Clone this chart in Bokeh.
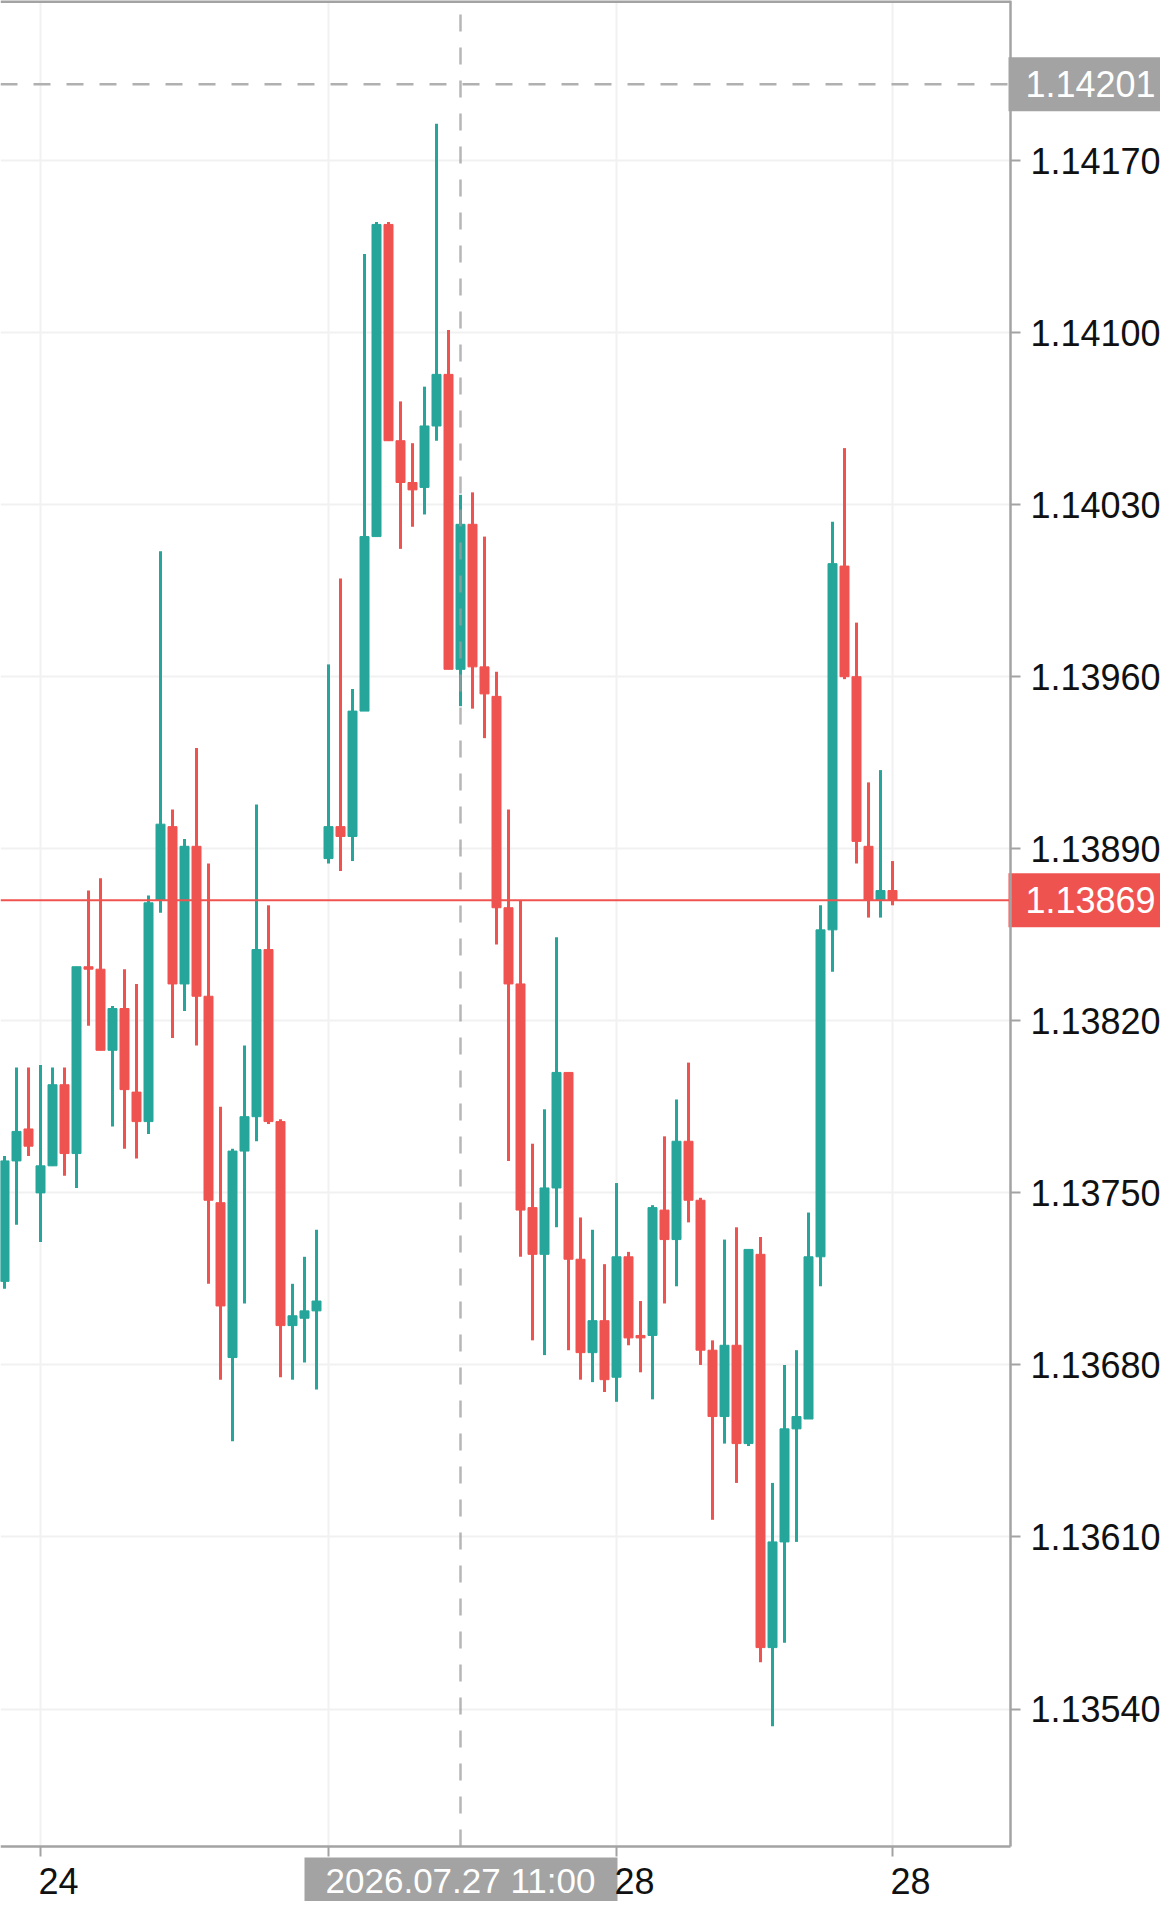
from bokeh.plotting import figure
from bokeh.models import (Range1d, FixedTicker, PrintfTickFormatter, LinearAxis, Grid,
                          ColumnDataSource)
from bokeh.core.properties import value
from bokeh.embed import file_html
from bokeh.resources import INLINE

# ---- data (candle index, OHLC) ----
opens = [1.13714, 1.13763, 1.13776, 1.13750, 1.13761, 1.13794, 1.13766, 1.13842, 1.13841, 1.13808,
         1.13825, 1.13791, 1.13779, 1.13869, 1.13899, 1.13835, 1.13891, 1.13830, 1.13746, 1.13683,
         1.13767, 1.13781, 1.13849, 1.13779, 1.13696, 1.13699, 1.13702, 1.13886, 1.13899, 1.13895,
         1.13946, 1.14017, 1.14144, 1.14056, 1.14039, 1.14037, 1.14062, 1.14083, 1.13963, 1.14022,
         1.13964, 1.13952, 1.13866, 1.13835, 1.13744, 1.13725, 1.13752, 1.13799, 1.13723, 1.13685,
         1.13698, 1.13675, 1.13724, 1.13692, 1.13692, 1.13743, 1.13731, 1.13771, 1.13747, 1.13686,
         1.13659, 1.13688, 1.13648, 1.13725, 1.13565, 1.13608, 1.13654, 1.13658, 1.13724, 1.13857,
         1.14005, 1.13960, 1.13891, 1.13869, 1.13873]
highs = [1.13765, 1.13801, 1.13801, 1.13802, 1.13801, 1.13801, 1.13842, 1.13873, 1.13878, 1.13826,
         1.13841, 1.13835, 1.13871, 1.14011, 1.13906, 1.13894, 1.13931, 1.13884, 1.13785, 1.13768,
         1.13810, 1.13908, 1.13867, 1.13780, 1.13713, 1.13724, 1.13735, 1.13965, 1.14000, 1.13955,
         1.14132, 1.14145, 1.14145, 1.14072, 1.14055, 1.14078, 1.14185, 1.14101, 1.14034, 1.14035,
         1.14017, 1.13962, 1.13906, 1.13869, 1.13770, 1.13784, 1.13854, 1.13799, 1.13740, 1.13735,
         1.13721, 1.13754, 1.13726, 1.13706, 1.13745, 1.13773, 1.13788, 1.13803, 1.13748, 1.13690,
         1.13731, 1.13736, 1.13727, 1.13732, 1.13632, 1.13680, 1.13686, 1.13742, 1.13867, 1.14023,
         1.14053, 1.13982, 1.13917, 1.13922, 1.13885]
lows = [1.13711, 1.13737, 1.13765, 1.13730, 1.13761, 1.13757, 1.13752, 1.13818, 1.13808, 1.13777,
        1.13768, 1.13764, 1.13774, 1.13864, 1.13813, 1.13824, 1.13810, 1.13713, 1.13674, 1.13649,
        1.13705, 1.13771, 1.13778, 1.13675, 1.13674, 1.13681, 1.13670, 1.13884, 1.13881, 1.13885,
        1.13946, 1.14017, 1.14056, 1.14012, 1.14021, 1.14026, 1.14056, 1.13963, 1.13948, 1.13947,
        1.13935, 1.13851, 1.13763, 1.13724, 1.13690, 1.13684, 1.13736, 1.13686, 1.13674, 1.13673,
        1.13669, 1.13665, 1.13688, 1.13677, 1.13666, 1.13705, 1.13712, 1.13738, 1.13680, 1.13617,
        1.13648, 1.13632, 1.13647, 1.13559, 1.13533, 1.13567, 1.13608, 1.13658, 1.13712, 1.13840,
        1.13959, 1.13884, 1.13862, 1.13862, 1.13867]
closes = [1.13763, 1.13775, 1.13769, 1.13761, 1.13794, 1.13766, 1.13842, 1.13841, 1.13808, 1.13825,
          1.13792, 1.13779, 1.13868, 1.13900, 1.13835, 1.13891, 1.13830, 1.13747, 1.13704, 1.13767,
          1.13781, 1.13849, 1.13779, 1.13696, 1.13700, 1.13702, 1.13706, 1.13899, 1.13895, 1.13946,
          1.14017, 1.14144, 1.14056, 1.14039, 1.14036, 1.14062, 1.14083, 1.13963, 1.14022, 1.13964,
          1.13953, 1.13866, 1.13835, 1.13743, 1.13725, 1.13752, 1.13799, 1.13723, 1.13685, 1.13698,
          1.13674, 1.13724, 1.13691, 1.13691, 1.13744, 1.13731, 1.13771, 1.13747, 1.13686, 1.13659,
          1.13688, 1.13648, 1.13727, 1.13565, 1.13608, 1.13654, 1.13659, 1.13724, 1.13857, 1.14006,
          1.13960, 1.13893, 1.13869, 1.13873, 1.13869]
index = list(range(len(opens)))

y_ticks = [1.13540, 1.13610, 1.13680, 1.13750, 1.13820, 1.13890, 1.13960, 1.14030, 1.14100, 1.14170]
x_ticks = [3, 27, 51, 74]
x_label_ticks = [3, 51, 74]          # the label at 27 is hidden behind the crosshair tag
x_label_texts = ["24", "28", "28"]
crosshair_index = 38
crosshair_price = 1.14201
crosshair_time = "2026.07.27 11:00"
current_price = closes[-1]

UP = "#26a69a"
DOWN = "#ef5350"
AXIS = "#a3a3a3"
GRID = "#f1f1f1"
TAG_GRAY = "#a3a3a3"
FONT = "Liberation Sans"
FS = "36px"

# ---- geometry (pixels) ----
W, H = 1160, 1901            # whole canvas = frame
PLOT_W, PLOT_H = 1010, 1846  # candle area; the axes are fixed inside the frame
px_x = 12.0                  # pixels per candle
px_y = 245800.0              # pixels per price unit
x_lo = -4 / px_x
x_axis = x_lo + PLOT_W / px_x
x_hi = x_lo + W / px_x
y_hi = 1.142351
y_axis = y_hi - PLOT_H / px_y
y_lo = y_hi - H / px_y
dx = lambda px: px / px_x
dy = lambda px: px / px_y

p = figure(width=W, height=H, x_range=Range1d(x_lo, x_hi), y_range=Range1d(y_lo, y_hi),
           output_backend="svg", toolbar_location=None,
           x_axis_location=None, y_axis_location=None,
           min_border=0, min_border_left=0, min_border_right=0,
           min_border_top=0, min_border_bottom=0)
p.outline_line_color = None
p.background_fill_color = "white"
p.border_fill_color = "white"
p.center = [r for r in p.center if not isinstance(r, Grid)]

# grid, bounded to the candle area
p.add_layout(Grid(dimension=0, ticker=FixedTicker(ticks=x_ticks), cross_bounds=(y_axis, y_hi),
                  grid_line_color=GRID, grid_line_width=2))
p.add_layout(Grid(dimension=1, ticker=FixedTicker(ticks=y_ticks), cross_bounds=(x_lo, x_axis),
                  grid_line_color=GRID, grid_line_width=2))

colors = [UP if c >= o else DOWN for o, c in zip(opens, closes)]
src = ColumnDataSource(dict(x=index, o=opens, h=highs, l=lows, c=closes,
                            top=[max(o, c) for o, c in zip(opens, closes)],
                            bot=[min(o, c) for o, c in zip(opens, closes)],
                            color=colors))
p.segment(x0="x", y0="l", x1="x", y1="h", source=src, line_color="color", line_width=3)
p.vbar(x="x", width=0.75, top="top", bottom="bot", source=src,
       fill_color="color", line_color="color", line_width=1)

# top border of the chart area
p.segment(x0=[x_lo], y0=[y_hi], x1=[x_axis], y1=[y_hi], line_color=AXIS, line_width=5)

# crosshair and current price line
p.segment(x0=[x_lo], y0=[crosshair_price], x1=[x_axis], y1=[crosshair_price],
          line_color="#b0b0b0", line_width=2.5, line_dash="17 16")
p.segment(x0=[crosshair_index], y0=[y_axis], x1=[crosshair_index], y1=[y_hi],
          line_color="#9e9e9e", line_alpha=0.75, line_width=2.5, line_dash="17 16")
p.segment(x0=[x_lo], y0=[current_price], x1=[x_axis], y1=[current_price],
          line_color=DOWN, line_width=2)

# price axis (right side of the candle area)
ya = LinearAxis(fixed_location=x_axis, bounds=(y_axis, y_hi),
                ticker=FixedTicker(ticks=y_ticks), formatter=PrintfTickFormatter(format="%.5f"))
# time axis (ticks), and its labels, which sit left-aligned at their tick
xa = LinearAxis(fixed_location=y_axis, bounds=(x_lo, x_axis), ticker=FixedTicker(ticks=x_ticks),
                major_label_overrides={t: "" for t in x_ticks})
shift = 1.5  # label centre lies half a label width right of its tick
xl = LinearAxis(fixed_location=y_axis, bounds=(x_lo, x_axis),
                ticker=FixedTicker(ticks=[t + shift for t in x_label_ticks]),
                major_label_overrides={t + shift: s for t, s in zip(x_label_ticks, x_label_texts)},
                axis_line_color=None, major_tick_line_color=None, major_tick_out=0,
                major_tick_in=0, major_label_standoff=21)
for ax in (ya, xa, xl):
    ax.major_label_text_font = FONT
    ax.major_label_text_font_size = FS
    ax.major_label_text_color = "#111111"
    ax.minor_tick_line_color = None
for ax in (ya, xa):
    ax.axis_line_color = AXIS
    ax.axis_line_width = 2.5
    ax.major_tick_line_color = AXIS
    ax.major_tick_line_width = 2
    ax.major_tick_in = 0
    ax.major_tick_out = 10
ya.major_label_standoff = 10
p.add_layout(ya, "right")
p.add_layout(xa, "below")
p.add_layout(xl, "below")

# price tags on the price axis
tag_prices = [crosshair_price, current_price]
tag_colors = [TAG_GRAY, DOWN]
p.quad(left=[x_axis - dx(2)] * 2, right=[x_axis + dx(166)] * 2,
       top=[v + dy(27) for v in tag_prices], bottom=[v - dy(27) for v in tag_prices],
       fill_color=tag_colors, line_color=None)
p.text(x=[x_axis] * 2, y=tag_prices, text=[f"{v:.5f}" for v in tag_prices], x_offset=15,
       text_align="left", text_baseline="middle", text_color="white",
       text_font=value(FONT), text_font_size=FS)

# crosshair time tag on the time axis
p.quad(left=[crosshair_index - dx(156)], right=[crosshair_index + dx(157)],
       top=[y_axis - dy(11)], bottom=[y_axis - dy(62)], fill_color=TAG_GRAY, line_color=None)
p.text(x=[crosshair_index], y=[y_axis - dy(34)], text=[crosshair_time],
       text_align="center", text_baseline="middle", text_color="white",
       text_font=value(FONT), text_font_size="35px")

open("out.html", "w").write(file_html(p, INLINE))
